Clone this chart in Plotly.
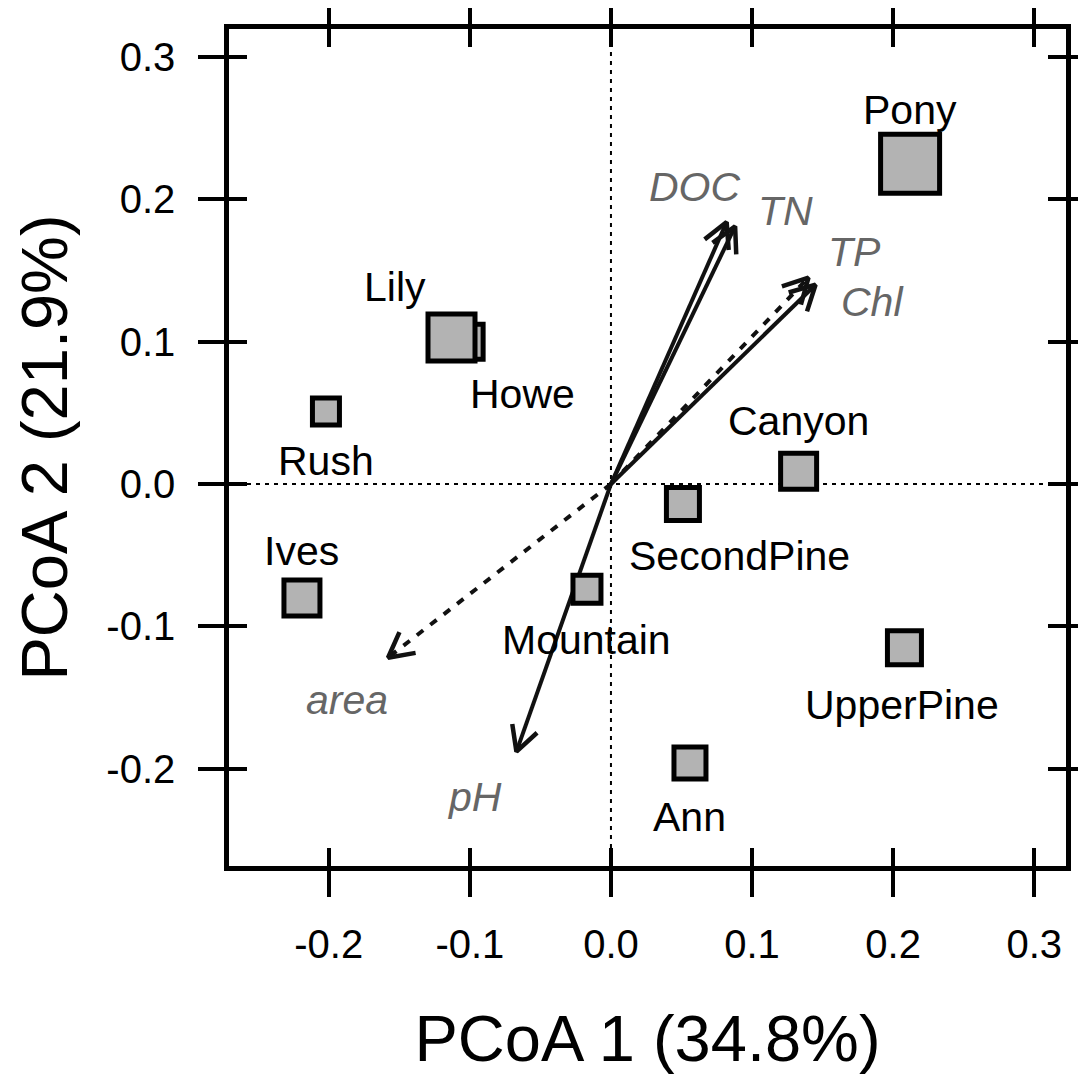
import numpy as np
import plotly.graph_objects as go

# ---------------- data ----------------
sites = ["Howe", "Lily", "Pony", "Rush", "Ives", "Mountain", "SecondPine",
         "Canyon", "UpperPine", "Ann"]
pcoa1 = [-0.103, -0.113, 0.212, -0.202, -0.219, -0.017, 0.051, 0.133, 0.208, 0.056]
pcoa2 = [0.100, 0.103, 0.225, 0.051, -0.080, -0.074, -0.014, 0.009, -0.115, -0.196]
site_size = [35, 47, 59, 27, 36, 28, 33, 36, 34, 32]

variables = ["DOC", "TN", "TP", "Chl", "area", "pH"]
vec1 = [0.082, 0.088, 0.140, 0.145, -0.158, -0.067]
vec2 = [0.184, 0.181, 0.145, 0.140, -0.122, -0.188]
vec_significant = [True, True, False, True, False, True]

x_ticks = [-0.2, -0.1, 0.0, 0.1, 0.2, 0.3]
y_ticks = [-0.2, -0.1, 0.0, 0.1, 0.2, 0.3]
x_title = "PCoA 1 (34.8%)"
y_title = "PCoA 2 (21.9%)"

# ---------------- layout constants ----------------
W, H = 1086, 1080
ML, MT = 221, 21          # page body adds 8px offset
PW, PH = 837, 837
MR, MB = W - ML - PW, H - MT - PH
XR = [-0.2707, 0.3225]
YR = [-0.2683, 0.3196]
FONT = "Liberation Sans, Arial, Helvetica, sans-serif"

# label offsets in pixels (dx right, dy down)
site_label_offset = {
    "Pony": (0, -54), "Lily": (-57, -50), "Howe": (57, 52), "Rush": (0, 50),
    "Ives": (0, -47), "Canyon": (0, -50), "SecondPine": (57, 52),
    "Mountain": (0, 51), "UpperPine": (-2, 57), "Ann": (0, 54),
}
var_label_offset = {
    "DOC": (-32, -35), "TN": (50, -15), "TP": (46, -26), "Chl": (57, 17),
    "area": (-41, 42), "pH": (-42, 45),
}

sx = PW / (XR[1] - XR[0])
sy = PH / (YR[1] - YR[0])

fig = go.Figure()

# reference lines at zero
fig.add_hline(y=0, line=dict(color="black", width=2, dash="4px,5px"), layer="below")
fig.add_vline(x=0, line=dict(color="black", width=2, dash="4px,5px"), layer="below")

# vectors
head_len = 28.0
head_ang = np.deg2rad(28)
for name, vx, vy, sig in zip(variables, vec1, vec2, vec_significant):
    fig.add_trace(go.Scatter(
        x=[0, vx], y=[0, vy], mode="lines",
        line=dict(color="#111111", width=4, dash="solid" if sig else "8px,9px"),
        hoverinfo="skip", showlegend=False))
    px, py = vx * sx, vy * sy
    ang = np.arctan2(py, px)
    bx, by = [], []
    for s in (1, -1):
        a = ang + np.pi + s * head_ang
        bx.append(vx + head_len * np.cos(a) / sx)
        by.append(vy + head_len * np.sin(a) / sy)
    fig.add_trace(go.Scatter(
        x=[bx[0], vx, bx[1]], y=[by[0], vy, by[1]], mode="lines",
        line=dict(color="#111111", width=4.5),
        hoverinfo="skip", showlegend=False))
    dx, dy = var_label_offset[name]
    fig.add_annotation(x=vx, y=vy, text=f"<i>{name}</i>", showarrow=False,
                       xshift=dx, yshift=-dy,
                       font=dict(family=FONT, size=41, color="#666666"))

# sites
fig.add_trace(go.Scatter(
    x=pcoa1, y=pcoa2, mode="markers",
    marker=dict(symbol="square", size=site_size, color="#b3b3b3", opacity=1,
                line=dict(color="black", width=5)),
    text=sites, hoverinfo="text", showlegend=False))
for name, sx_, sy_ in zip(sites, pcoa1, pcoa2):
    dx, dy = site_label_offset[name]
    fig.add_annotation(x=sx_, y=sy_, text=name, showarrow=False,
                       xshift=dx, yshift=-dy,
                       font=dict(family=FONT, size=41, color="black"))

# invisible trace on overlay axes (for inward ticks)
fig.add_trace(go.Scatter(x=[0], y=[0], xaxis="x2", yaxis="y2", mode="markers",
                         marker=dict(opacity=0), hoverinfo="skip", showlegend=False))

tickfmt = lambda v: f"{v:.1f}"
common = dict(showgrid=False, zeroline=False, showline=True, linecolor="black",
              linewidth=4.5, tickcolor="black", tickwidth=4, mirror="allticks",
              automargin=False)

fig.update_layout(
    width=W, height=H,
    margin=dict(l=ML, r=MR, t=MT, b=MB),
    plot_bgcolor="white", paper_bgcolor="white",
    font=dict(family=FONT, color="black"),
    xaxis=dict(range=XR, tickvals=x_ticks, ticktext=[tickfmt(v) for v in x_ticks],
               ticks="outside", ticklen=26, ticklabelstandoff=13,
               tickfont=dict(size=40),
               title=dict(text=x_title, font=dict(size=65), standoff=52),
               **common),
    yaxis=dict(range=YR, tickvals=y_ticks, ticktext=[tickfmt(v) for v in y_ticks],
               ticks="outside", ticklen=26, ticklabelstandoff=15,
               tickfont=dict(size=40),
               title=dict(text=y_title, font=dict(size=65), standoff=30),
               **common),
    xaxis2=dict(range=XR, tickvals=x_ticks, overlaying="x", matches="x",
                ticks="inside", ticklen=18, showticklabels=False, **common),
    yaxis2=dict(range=YR, tickvals=y_ticks, overlaying="y", matches="y",
                ticks="inside", ticklen=18, showticklabels=False, **common),
)

fig.write_html("out.html")
